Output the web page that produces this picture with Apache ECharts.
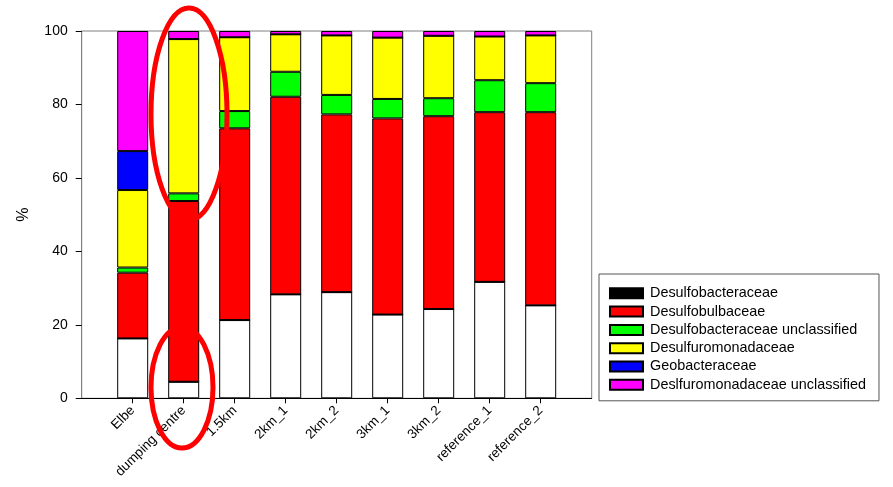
<!DOCTYPE html>
<html>
<head>
<meta charset="utf-8">
<script src="https://cdn.jsdelivr.net/npm/echarts@6/dist/echarts.min.js"></script>
<style>
  html, body { margin: 0; padding: 0; background: #fff; }
  #chart { width: 893px; height: 487px; }
</style>
</head>
<body>
<div id="chart"></div>
<script>
// Sampling sites
const sites = ['Elbe', 'dumping centre', '1.5km', '2km_1', '2km_2', '3km_1', '3km_2', 'reference_1', 'reference_2'];

// Relative abundance (%) per family, one value per site
const otherTaxa          = [16.3, 4.5, 21.3, 28.3, 28.9, 22.8, 24.3, 31.7, 25.3];
const desulfobacteraceae = [0, 0, 0, 0, 0, 0, 0, 0, 0];
const desulfobulbaceae   = [17.9, 49.2, 52.2, 53.8, 48.4, 53.4, 52.5, 46.2, 52.6];
const desulfobactUncl    = [1.4, 2.1, 4.7, 6.8, 5.3, 5.3, 4.9, 8.7, 7.9];
const desulfuromonad     = [21.1, 42.0, 20.1, 10.2, 16.2, 16.7, 17.0, 11.9, 13.0];
const geobacteraceae     = [10.6, 0, 0, 0, 0, 0, 0, 0, 0];
const desulfuromUncl     = [32.7, 2.2, 1.7, 0.9, 1.2, 1.8, 1.3, 1.5, 1.2];

// Y axis ticks
const yTicks = [0, 20, 40, 60, 80, 100];

const families = [
  { name: 'Other', values: otherTaxa, color: '#ffffff' },
  { name: 'Desulfobacteraceae', values: desulfobacteraceae, color: '#000000' },
  { name: 'Desulfobulbaceae', values: desulfobulbaceae, color: '#ff0000' },
  { name: 'Desulfobacteraceae unclassified', values: desulfobactUncl, color: '#00ff00' },
  { name: 'Desulfuromonadaceae', values: desulfuromonad, color: '#ffff00' },
  { name: 'Geobacteraceae', values: geobacteraceae, color: '#0000ff' },
  { name: 'Deslfuromonadaceae unclassified', values: desulfuromUncl, color: '#ff00ff' }
];

// Empty slots at both ends leave a gap of one site spacing next to the frame
const axisCategories = [''].concat(sites, ['']);
const padSeries = vals => ['-'].concat(vals, ['-']);

const font = 'Arial, "Liberation Sans", sans-serif';

const chart = echarts.init(document.getElementById('chart'), null, { renderer: 'canvas' });

const series = families.map(f => ({
  name: f.name,
  type: 'bar',
  stack: 'total',
  barWidth: 31,
  data: padSeries(f.values),
  itemStyle: { color: f.color, borderColor: '#000', borderWidth: 1 },
  emphasis: { disabled: true },
  animation: false
}));

chart.setOption({
  animation: false,
  backgroundColor: '#fff',
  grid: {
    left: 81.7, right: 301.3, top: 31, bottom: 88.7,
    show: true, borderColor: '#808080', borderWidth: 1, backgroundColor: 'transparent'
  },
  legend: {
    data: families.slice(1).map(f => f.name),
    orient: 'vertical',
    left: 599, top: 274,
    padding: [11.3, 13, 8, 10],
    itemWidth: 33, itemHeight: 10, itemGap: 2.3,
    borderColor: '#555', borderWidth: 1,
    icon: 'rect',
    textStyle: { fontFamily: font, fontSize: 14.4, color: '#000', lineHeight: 16, padding: [0, 0, 0, 2] },
    selectedMode: false
  },
  xAxis: {
    type: 'category',
    data: axisCategories,
    boundaryGap: false,
    splitLine: { show: false },
    axisLine: { show: true, lineStyle: { color: '#000', width: 1 } },
    axisTick: {
      show: true, length: 5, lineStyle: { color: '#000' },
      interval: (idx, val) => val !== ''
    },
    axisLabel: {
      interval: 0,
      rotate: 45, margin: 10,
      fontFamily: font, fontSize: 13.5, color: '#000'
    }
  },
  yAxis: {
    type: 'value',
    min: 0, max: 100, interval: 20,
    name: '%', nameLocation: 'middle', nameGap: 50, nameRotate: 90,
    nameTextStyle: { fontFamily: font, fontSize: 16, color: '#000' },
    splitLine: { show: false },
    axisLine: { show: true, lineStyle: { color: '#808080', width: 1 } },
    axisTick: { show: true, inside: false, length: 6, lineStyle: { color: '#000' } },
    axisLabel: {
      margin: 14, fontFamily: font, fontSize: 14, color: '#000',
      formatter: v => (yTicks.indexOf(v) >= 0 ? String(v) : '')
    }
  },
  series: series,
  graphic: [
    {
      type: 'ellipse', z: 100,
      shape: { cx: 189, cy: 114, rx: 38, ry: 106 },
      style: { fill: 'none', stroke: '#ff0000', lineWidth: 5 }
    },
    {
      type: 'ellipse', z: 100,
      shape: { cx: 182, cy: 387.5, rx: 31, ry: 60.5 },
      style: { fill: 'none', stroke: '#ff0000', lineWidth: 5 }
    }
  ]
});
</script>
</body>
</html>
